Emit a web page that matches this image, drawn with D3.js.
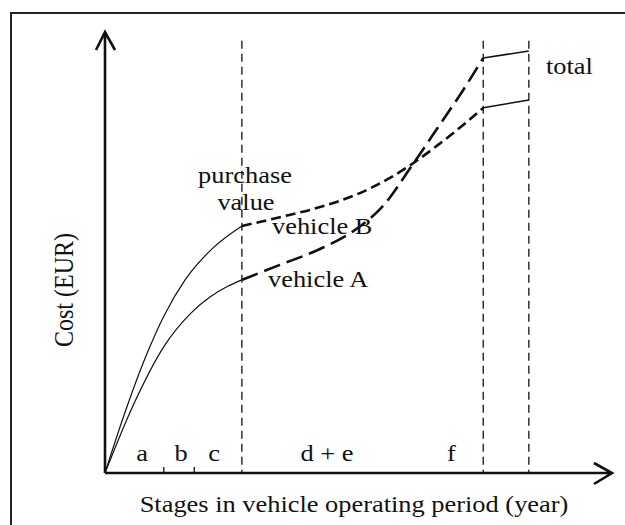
<!DOCTYPE html>
<html>
<head>
<meta charset="utf-8">
<script src="https://cdn.jsdelivr.net/npm/d3@7"></script>
<style>
  body { margin: 0; background: #fff; }
</style>
</head>
<body>
<div id="chart"></div>
<script>
// schematic units: x and y both run 0..100 (arrow tips)
var stageBounds = [11.6, 17.6, 27.0, 74.6, 83.6];
var stageLabels = ["a", "b", "c", "d + e", "f"];
var stageLabelX = [7.3, 15.0, 21.5, 43.8, 68.3];

// vehicle A - purchase phase (solid), operating phase (long dash), end (solid)
var acqA_x = [0, 5.5, 11.8, 16.8, 20.7, 24.3, 27.0];
var acqA_y = [0, 15.2, 29.0, 36.1, 39.9, 42.4, 43.8];
var opA_x = [27.0, 34.5, 42.4, 49.3, 54.8, 60.6, 66.1, 70.4, 74.6];
var opA_y = [43.8, 47.2, 50.8, 55.1, 60.5, 69.8, 79.1, 86.4, 94.1];
var endA_x = [74.6, 83.6];
var endA_y = [94.1, 95.7];

// vehicle B - purchase phase (solid), operating phase (short dash), end (solid)
var acqB_x = [0, 3.9, 7.9, 11.8, 15.8, 20.9, 27.0];
var acqB_y = [0, 13.6, 26.0, 36.0, 43.8, 50.6, 56.0];
var opB_x = [27.0, 34.5, 42.4, 49.9, 56.2, 60.6, 65.7, 70.4, 74.6];
var opB_y = [56.0, 58.0, 60.3, 63.3, 66.9, 70.1, 74.4, 78.7, 82.8];
var endB_x = [74.6, 83.6];
var endB_y = [82.8, 84.6];

var width = 625, height = 525;
var serif = "'Liberation Serif', 'Times New Roman', Times, serif";

var svg = d3.select("#chart")
    .append("svg")
    .attr("width", width)
    .attr("height", height);

// outer frame (runs off the right and bottom edge)
svg.append("rect")
    .attr("x", 11).attr("y", 13)
    .attr("width", 640).attr("height", 540)
    .attr("fill", "none")
    .attr("stroke", "#222")
    .attr("stroke-width", 2);

var x = d3.scaleLinear().domain([0, 100]).range([105, 612]);
var y = d3.scaleLinear().domain([0, 100]).range([473, 32]);

function zip(xs, ys) {
    return xs.map(function (d, i) { return [d, ys[i]]; });
}

var line = d3.line()
    .x(function (d) { return x(d[0]); })
    .y(function (d) { return y(d[1]); })
    .curve(d3.curveMonotoneX);

// text helper, the original glyphs are a bit wide
function label(px, py, str, anchor) {
    svg.append("text")
        .attr("transform", "translate(" + px + "," + py + ") scale(1.1,1)")
        .attr("text-anchor", anchor || "start")
        .attr("font-family", serif)
        .attr("font-size", 24)
        .attr("fill", "#111")
        .text(str);
}

// stage letters
stageLabels.forEach(function (s, i) {
    label(x(stageLabelX[i]), 461, s, "middle");
});

label(245, 183, "purchase", "middle");
label(246, 210, "value", "middle");
label(272, 234, "vehicle B");
label(268, 287, "vehicle A");
label(546, 74, "total");

label(354, 512, "Stages in vehicle operating period (year)", "middle");

svg.append("text")
    .attr("transform", "translate(73,290) rotate(-90) scale(1,1.1)")
    .attr("text-anchor", "middle")
    .attr("font-family", serif)
    .attr("font-size", 24)
    .attr("fill", "#111")
    .text("Cost (EUR)");

// dashed stage boundaries
svg.append("g")
    .selectAll("line")
    .data(stageBounds.slice(2))
    .enter()
    .append("line")
    .attr("x1", function (d) { return x(d); })
    .attr("x2", function (d) { return x(d); })
    .attr("y1", y(98))
    .attr("y2", y(0))
    .attr("stroke", "#111")
    .attr("stroke-width", 1.3)
    .attr("stroke-dasharray", "8,5");

// small ticks
svg.append("g")
    .selectAll("line")
    .data(stageBounds.slice(0, 2))
    .enter()
    .append("line")
    .attr("x1", function (d) { return x(d); })
    .attr("x2", function (d) { return x(d); })
    .attr("y1", y(0) - 6)
    .attr("y2", y(0))
    .attr("stroke", "#111")
    .attr("stroke-width", 1.3);

// curves
var curves = [
    { pts: zip(acqA_x, acqA_y), w: 1.2, dash: null },
    { pts: zip(acqB_x, acqB_y), w: 1.2, dash: null },
    { pts: zip(opA_x, opA_y), w: 2.6, dash: "17,7" },
    { pts: zip(opB_x, opB_y), w: 2.6, dash: "10,5" },
    { pts: zip(endA_x, endA_y), w: 1.5, dash: null },
    { pts: zip(endB_x, endB_y), w: 1.5, dash: null }
];

svg.append("g")
    .selectAll("path")
    .data(curves)
    .enter()
    .append("path")
    .attr("d", function (d) { return line(d.pts); })
    .attr("fill", "none")
    .attr("stroke", "#111")
    .attr("stroke-width", function (d) { return d.w; })
    .attr("stroke-dasharray", function (d) { return d.dash; });

// axes with open arrow heads
var axes = svg.append("g")
    .attr("fill", "none")
    .attr("stroke", "#111")
    .attr("stroke-width", 2.6);

axes.append("path")
    .attr("d", "M" + x(0) + "," + y(0) + "V" + y(100) + "M" + (x(0) - 9) + "," + (y(100) + 18) +
        "L" + x(0) + "," + y(100) + "L" + (x(0) + 10) + "," + (y(100) + 18));

axes.append("path")
    .attr("d", "M" + x(0) + "," + y(0) + "H" + x(100) + "M" + (x(100) - 18) + "," + (y(0) - 10) +
        "L" + x(100) + "," + y(0) + "L" + (x(100) - 18) + "," + (y(0) + 11));
</script>
</body>
</html>
